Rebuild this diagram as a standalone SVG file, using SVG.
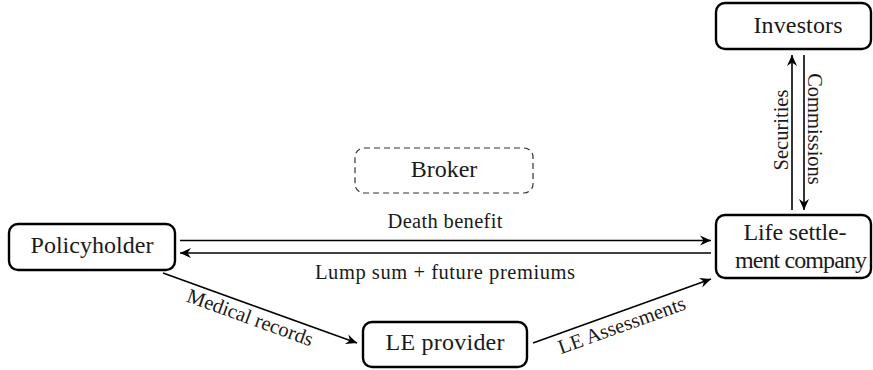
<svg xmlns="http://www.w3.org/2000/svg" width="873" height="370" viewBox="0 0 873 370">
  <style>
    .node { fill: #ffffff; stroke: #000000; stroke-width: 2.4; }
    .dashed { fill: none; stroke: #333333; stroke-width: 1.2; stroke-dasharray: 6 4; }
    .label { font-family: 'Liberation Serif', Tinos, 'DejaVu Serif', serif; font-size: 24px; fill: #1a1a1a; text-anchor: middle; }
    .edge-label { font-family: 'Liberation Serif', Tinos, 'DejaVu Serif', serif; font-size: 20.5px; fill: #1a1a1a; text-anchor: middle; }
    .flow { fill: none; stroke: #000000; stroke-width: 1.6; marker-end: url(#stealth); }
  </style>
  <defs>
    <marker id="stealth" markerUnits="userSpaceOnUse" viewBox="-12 -6 13 12" refX="0" refY="0" markerWidth="13" markerHeight="12" orient="auto">
      <path d="M0,0 L-11,-5 L-7.5,0 L-11,5 Z" fill="#000000"/>
    </marker>
  </defs>

  <!-- nodes -->
  <g id="investors">
    <rect class="node" x="716" y="3" width="155" height="46" rx="9"/>
    <text class="label" x="798" y="33" textLength="89">Investors</text>
  </g>
  <g id="broker">
    <rect class="dashed" x="355" y="148" width="178" height="45" rx="9"/>
    <text class="label" x="444" y="177">Broker</text>
  </g>
  <g id="policyholder">
    <rect class="node" x="9" y="224" width="166" height="46" rx="9"/>
    <text class="label" x="92" y="253" textLength="123">Policyholder</text>
  </g>
  <g id="life-settlement-company">
    <rect class="node" x="716" y="215" width="155" height="63" rx="9"/>
    <text class="label" x="795" y="240" textLength="103">Life settle-</text>
    <text class="label" x="801" y="268" textLength="132">ment company</text>
  </g>
  <g id="le-provider">
    <rect class="node" x="363" y="322" width="164" height="45" rx="9"/>
    <text class="label" x="445" y="350" textLength="119">LE provider</text>
  </g>

  <!-- connectors -->
  <g id="connectors">
    <line class="flow" x1="792" y1="210" x2="792" y2="55"/>
    <text class="edge-label" transform="translate(788,130) rotate(-90)">Securities</text>
    <line class="flow" x1="804" y1="55" x2="804" y2="210"/>
    <text class="edge-label" transform="translate(808,129) rotate(90)">Commissions</text>

    <line class="flow" x1="180" y1="240.5" x2="711" y2="240.5"/>
    <text class="edge-label" x="445" y="228" textLength="115">Death benefit</text>
    <line class="flow" x1="711" y1="253" x2="180" y2="253"/>
    <text class="edge-label" x="445" y="279" textLength="260">Lump sum + future premiums</text>

    <line class="flow" x1="163" y1="273" x2="357" y2="343"/>
    <text class="edge-label" transform="translate(260,308) rotate(19.84)" x="-6" y="19">Medical records</text>
    <line class="flow" x1="533" y1="343" x2="711" y2="279"/>
    <text class="edge-label" transform="translate(622,311) rotate(-19.78)" x="-5" y="20">LE Assessments</text>
  </g>
</svg>
